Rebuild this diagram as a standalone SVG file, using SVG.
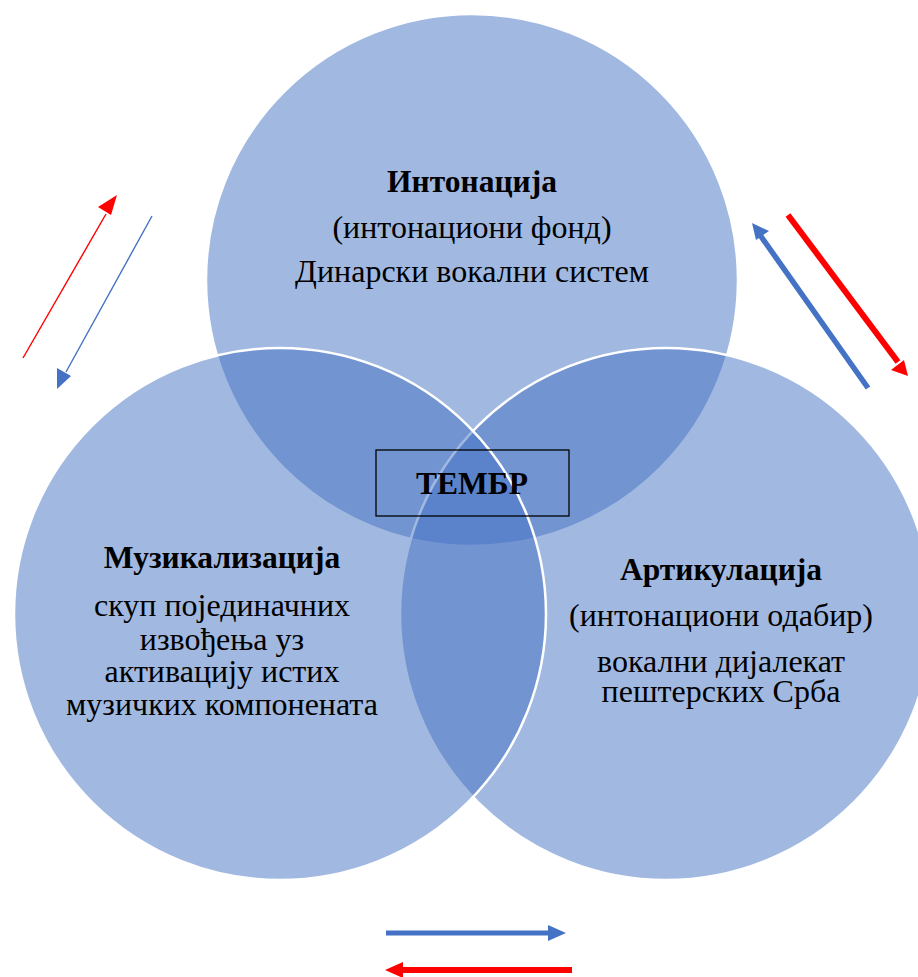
<svg xmlns="http://www.w3.org/2000/svg" width="918" height="977" viewBox="0 0 918 977">
<defs>
<style>
.c{fill:#4472C4;fill-opacity:0.5;stroke:#FFFFFF;stroke-width:2.5}
.t{font-family:"Liberation Serif","Times New Roman",serif;font-size:32px;fill:#000;text-anchor:middle}
.b{font-weight:bold;font-size:31.5px}
</style>
</defs>
<rect width="918" height="977" fill="#FFFFFF"/>
<g id="intonacija">
<circle class="c" cx="472" cy="280" r="266"/>
</g>
<g id="artikulacija">
<circle class="c" cx="666" cy="614" r="266"/>
</g>
<g id="muzikalizacija">
<circle class="c" cx="280" cy="614" r="266"/>
</g>
<g id="tembr">
<rect x="376" y="450" width="193" height="66" fill="none" stroke="#000" stroke-width="1.3"/>
<text class="t b" x="472" y="494">ТЕМБР</text>
</g>
<g id="labels">
<text class="t b" x="472" y="192">Интонација</text>
<text class="t" x="472" y="238">(интонациони фонд)</text>
<text class="t" x="472" y="282">Динарски вокални систем</text>
<text class="t b" x="222" y="568">Музикализација</text>
<text class="t" x="222" y="616">скуп појединачних</text>
<text class="t" x="222" y="650">извођења уз</text>
<text class="t" x="222" y="682">активацију истих</text>
<text class="t" x="222" y="715">музичких компонената</text>
<text class="t b" x="721" y="580">Артикулација</text>
<text class="t" x="721" y="626">(интонациони одабир)</text>
<text class="t" x="721" y="672">вокални дијалекат</text>
<text class="t" x="721" y="702">пештерских Срба</text>
</g>
<g id="connectors">
<line x1="23" y1="358" x2="106" y2="214" stroke="#FF0000" stroke-width="1.4"/>
<polygon points="117,195 98,207 111,215" fill="#FF0000"/>
<line x1="152" y1="216" x2="66" y2="372" stroke="#4472C4" stroke-width="1.4"/>
<polygon points="57,389 57,368 71,376" fill="#4472C4"/>
<line x1="788" y1="215" x2="898" y2="362" stroke="#FF0000" stroke-width="6"/>
<polygon points="908,376 891,370 904,360" fill="#FF0000"/>
<line x1="868" y1="388" x2="760" y2="235" stroke="#4472C4" stroke-width="5.5"/>
<polygon points="752,223 769,231 756,240" fill="#4472C4"/>
<line x1="386" y1="933" x2="550" y2="933" stroke="#4472C4" stroke-width="5"/>
<polygon points="566,933 548,925 548,941" fill="#4472C4"/>
<line x1="572" y1="970" x2="401" y2="970" stroke="#FF0000" stroke-width="6"/>
<polygon points="385,970 403,962 403,978" fill="#FF0000"/>
</g>
</svg>
